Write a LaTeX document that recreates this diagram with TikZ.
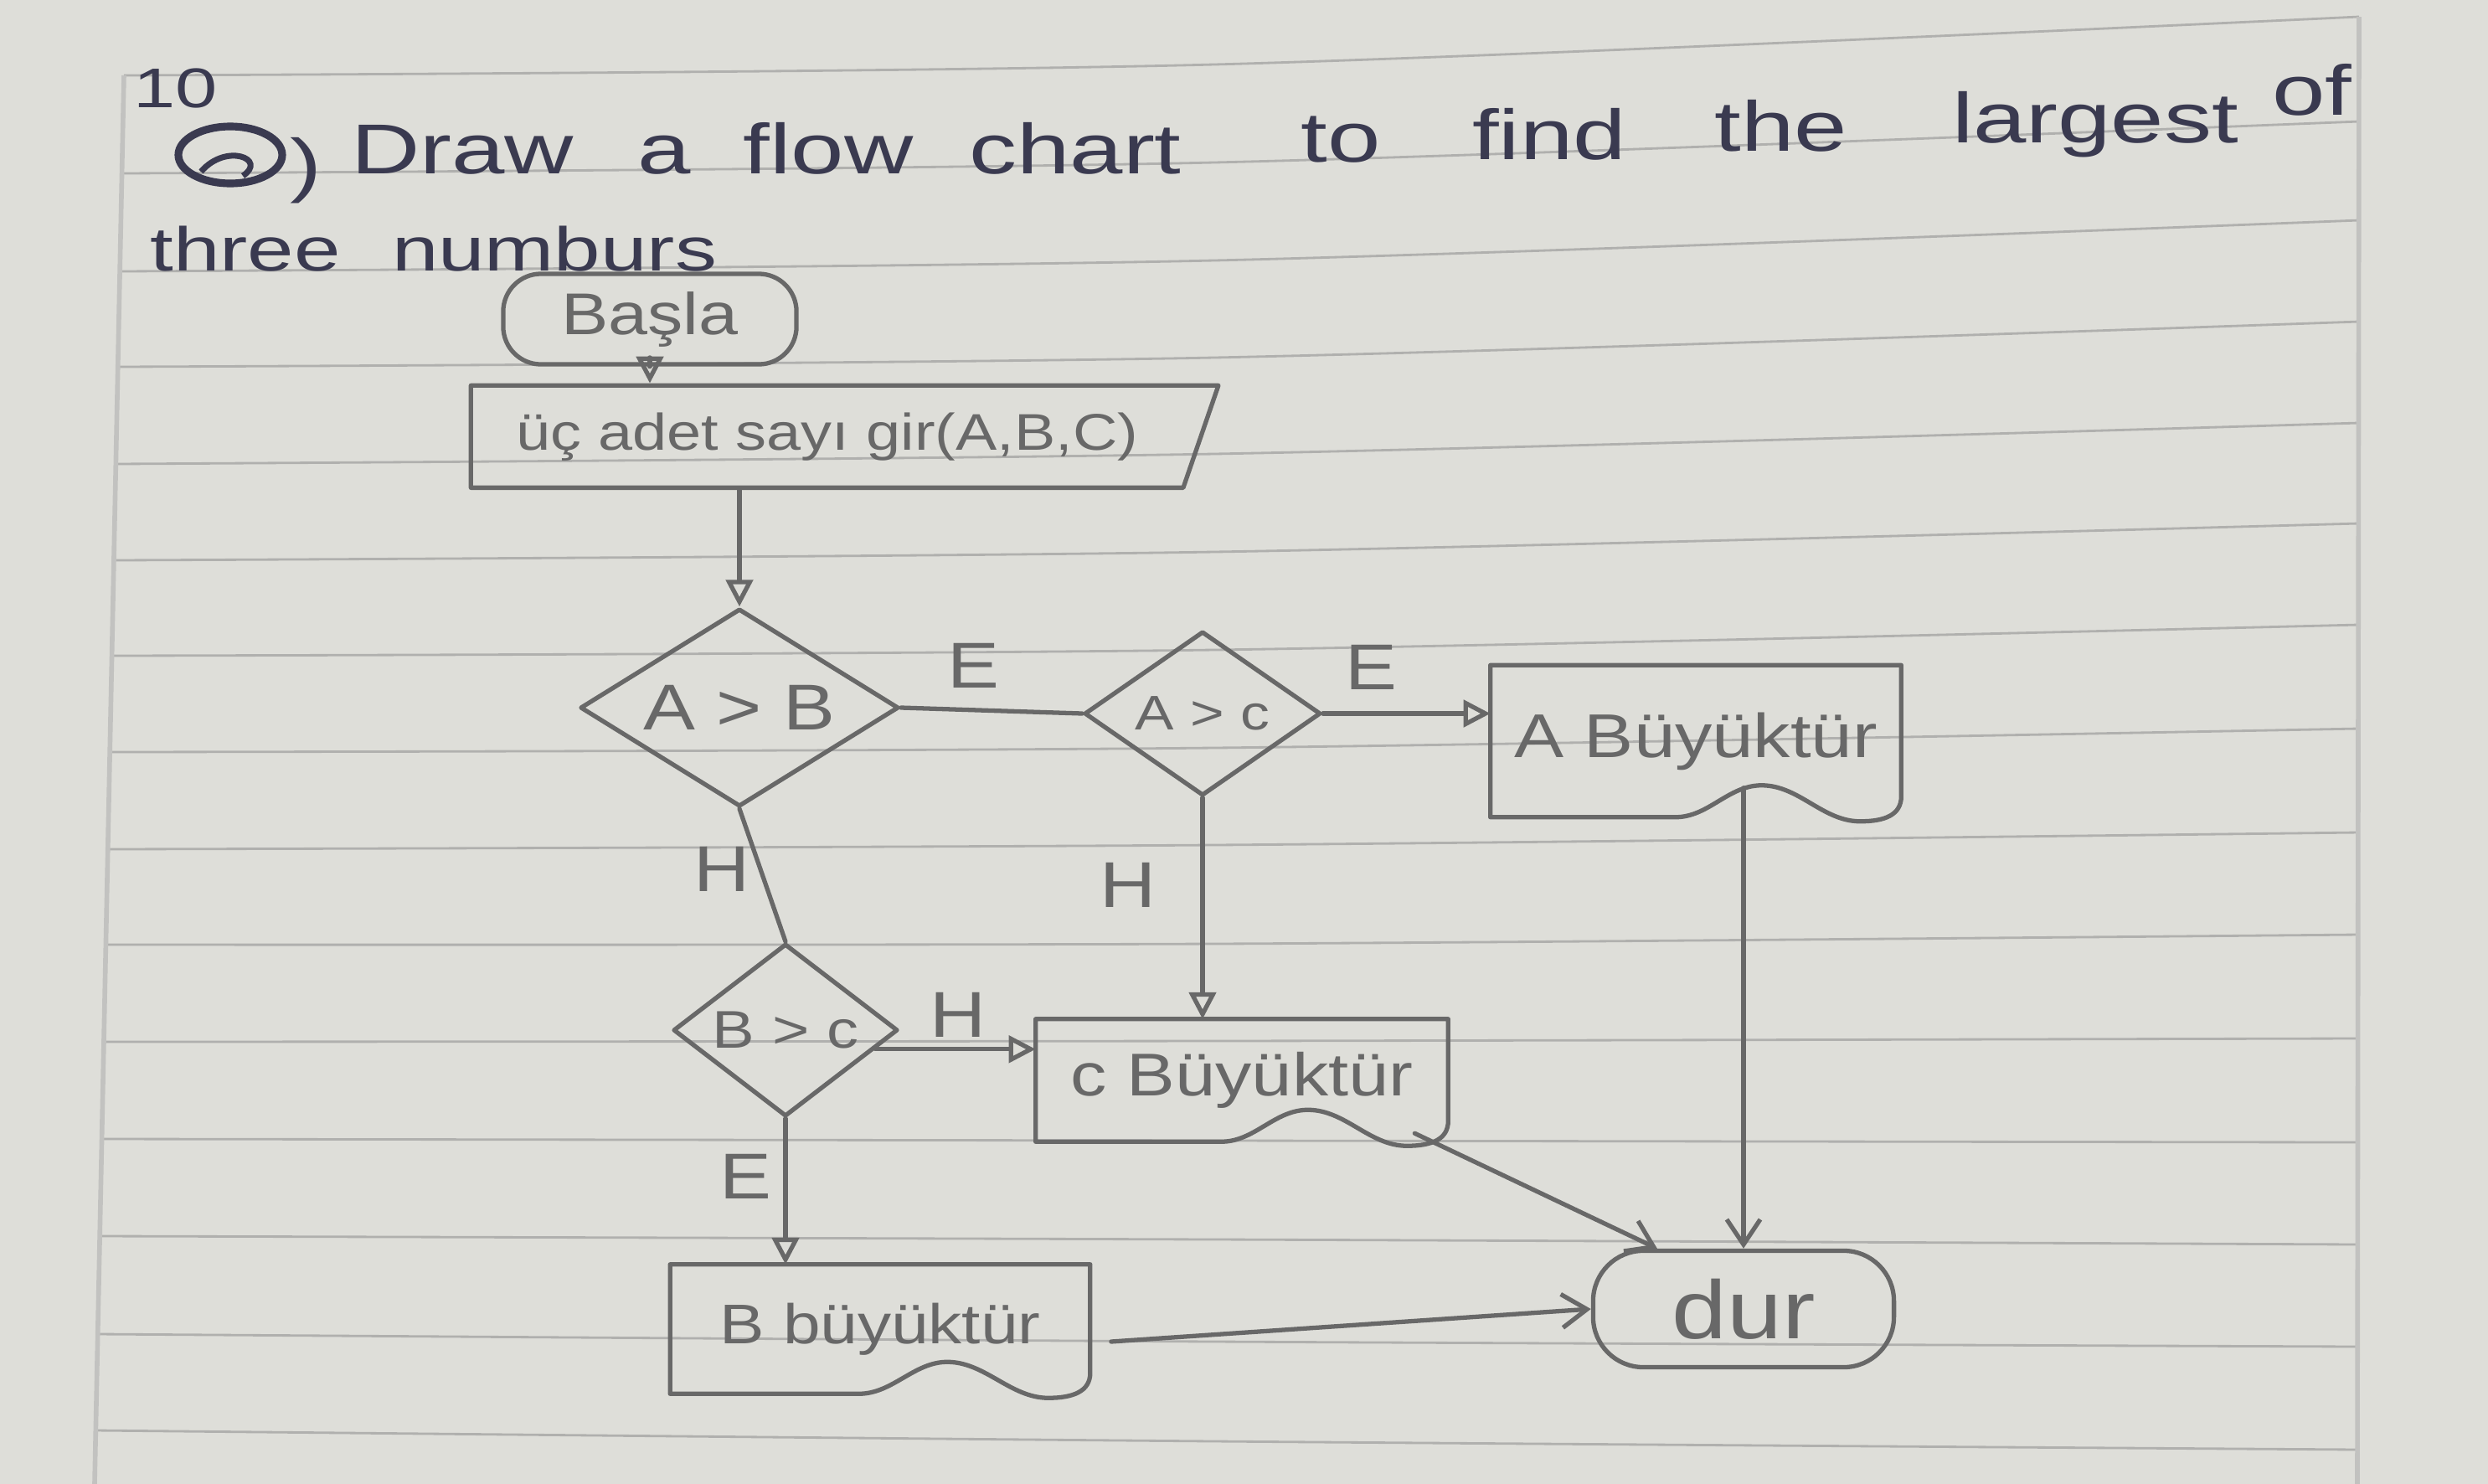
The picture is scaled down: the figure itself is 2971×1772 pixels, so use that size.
\documentclass[tikz,border=0pt]{standalone}
\usepackage{fontspec}
\setmainfont{Liberation Sans}
\newfontfamily\penfont{Liberation Sans}[FakeStretch=1.35]
\newfontfamily\pencilfont{Liberation Sans}[FakeStretch=1.2]
\usetikzlibrary{arrows.meta, shapes.geometric, calc}

\definecolor{paper}{RGB}{222,222,217}
\definecolor{rule}{RGB}{176,176,174}
\definecolor{margin}{RGB}{194,194,192}
\definecolor{lead}{RGB}{104,104,104}
\definecolor{ink}{RGB}{58,58,80}

\tikzset{
  pencil/.style={draw=lead, line width=1.5pt, line join=round, line cap=round},
  terminal/.style={pencil, rectangle, rounded corners=0.45cm, text=lead},
  decision/.style={pencil, diamond, inner sep=0pt, text=lead},
  docbox/.style={rectangle, inner sep=0pt, text=lead},
  flowarrow/.style={pencil, -{Triangle[open, length=0.32cm, width=0.32cm]}},
  stoparrow/.style={pencil, -{Straight Barb[length=0.3cm, width=0.4cm]}},
  branch/.style={text=lead, font=\pencilfont\fontsize{22}{26}\selectfont},
  penword/.style={anchor=base, inner sep=0pt, text=ink, font=\penfont\fontsize{24}{28}\selectfont},
  ruled/.style={draw=rule, line width=0.8pt}
}
\newcommand{\pencilsize}[1]{\pencilfont\fontsize{#1}{#1}\selectfont}

\begin{document}
\begin{tikzpicture}[x=0.01cm, y=-0.01cm]
    % the sheet of lined paper
    \fill[paper] (0,0) rectangle (2971,1772);
    \useasboundingbox (0,0) rectangle (2971,1772);
    \foreach \xl/\yl/\ym/\yr in {148/90/77/20, 146/207/194/145, 143/324/311/263,
        141/438/427/384, 138/554/542/505, 136/669/659/625, 134/783/776/746,
        131/898/893/870, 129/1014/1009/994, 126/1128/1127/1116, 124/1244/1243/1240,
        122/1360/1362/1364, 119/1476/1480/1486, 117/1593/1602/1608, 114/1708/1721/1731}
        \draw[ruled] plot[smooth] coordinates {(\xl,\yl) (1450,\ym) (2817,\yr)};
    \draw[margin, line width=1.6pt] (148,90) -- (113,1772);
    \draw[margin, line width=1.6pt] (2817,20) -- (2815,1772);

    % question
    \node[penword, font=\penfont\fontsize{19}{22}\selectfont] (qnum) at (210,128) {10};
    \draw[ink, line width=2.6pt] (275,185) ellipse [x radius=62, y radius=34];
    \draw[ink, line width=2pt] (240,205) .. controls (270,170) and (320,190) .. (290,210);
    \foreach \w/\x/\y [count=\i] in {)/365/225, Draw/552/207, a/793/207, flow/989/207,
        chart/1284/207, to/1601/193, find/1850/190, the/2127/180, largest/2502/170,
        of/2761/137}
        \node[penword] (word\i) at (\x,\y) {\w};
    \node[penword, font=\penfont\fontsize{21}{24}\selectfont] (three) at (293,323) {three};
    \node[penword, font=\penfont\fontsize{21}{24}\selectfont] (numburs) at (662,323) {numburs};

    % flow chart
    \node[terminal, minimum width=3.5cm, minimum height=1.08cm, font=\pencilsize{20}] (start) at (776,381) {Başla};
    \node[pencil, trapezium, trapezium left angle=90, trapezium right angle=115, trapezium stretches=true,
        minimum width=8.94cm, minimum height=1.22cm, text=lead, font=\pencilsize{17.5}, anchor=south west]
        (input) at (924,585) {üç adet sayı gir(A,B,C)};

    \node[decision, aspect=1.61, minimum width=3.80cm, minimum height=2.36cm, font=\pencilsize{22}] (ab) at (883,845) {A > B};
    \node[decision, aspect=1.44, minimum width=2.82cm, minimum height=1.96cm, font=\pencilsize{16.5}] (ac) at (1436,852) {A > c};
    \node[decision, aspect=1.30, minimum width=2.68cm, minimum height=2.06cm, font=\pencilsize{18}] (bc) at (938,1230) {B > c};

    \node[docbox, minimum width=4.89cm, minimum height=1.80cm, font=\pencilsize{21}] (abig) at (2025,885) {A Büyüktür};
    \node[docbox, minimum width=4.91cm, minimum height=1.45cm, font=\pencilsize{20.5}] (cbig) at (1483,1290) {c Büyüktür};
    \node[docbox, minimum width=5.00cm, minimum height=1.53cm, font=\pencilsize{19}] (bbig) at (1051,1587) {B büyüktür};
    \foreach \n in {abig, cbig, bbig}
        \draw[pencil] ($(\n.south west)!0.45!(\n.south east)$) -- (\n.south west) -- (\n.north west)
            -- (\n.north east) -- ($(\n.south east)+(0,-25)$)
            .. controls +(0,22) and +(30,0) .. ($(\n.south west)!0.9!(\n.south east)+(0,5)$)
            .. controls +(-45,0) and +(45,0) .. ($(\n.south west)!0.66!(\n.south east)+(0,-38)$)
            .. controls +(-40,0) and +(40,0) .. ($(\n.south west)!0.45!(\n.south east)$);

    \node[terminal, rounded corners=0.6cm, minimum width=3.59cm, minimum height=1.39cm, font=\pencilsize{28}] (dur) at (2082,1563) {dur};

    % yes / no labels
    \node[branch] (abyes) at (1162,795) {E};
    \node[branch] (acyes) at (1637,797) {E};
    \node[branch] (abno) at (862,1038) {H};
    \node[branch] (acno) at (1347,1057) {H};
    \node[branch] (bcno) at (1144,1212) {H};
    \node[branch] (bcyes) at (890,1405) {E};

    % connectors
    \draw[flowarrow] (start.south) -- (start.south |- input.north);
    \draw[flowarrow] (ab.north |- input.south) -- (ab.north);
    \draw[pencil] (ab.east) -- (ac.west);
    \draw[flowarrow] (ac.east) -- (ac.east -| abig.west);
    \draw[pencil] (ab.south) -- (bc.north);
    \draw[flowarrow] (ac.south) -- (ac.south |- cbig.north);
    \draw[flowarrow] (bc.-12) -- (bc.-12 -| cbig.west);
    \draw[flowarrow] (bc.south) -- (bc.south |- bbig.north);
    \draw[stoparrow] ($(dur.north |- abig.south)+(0,-35)$) -- (dur.north);
    \draw[stoparrow] ($(cbig.south east)+(-40,-10)$) -- (dur.145);
    \draw[stoparrow] ($(bbig.east)+(25,15)$) -- (dur.west);
\end{tikzpicture}
\end{document}
